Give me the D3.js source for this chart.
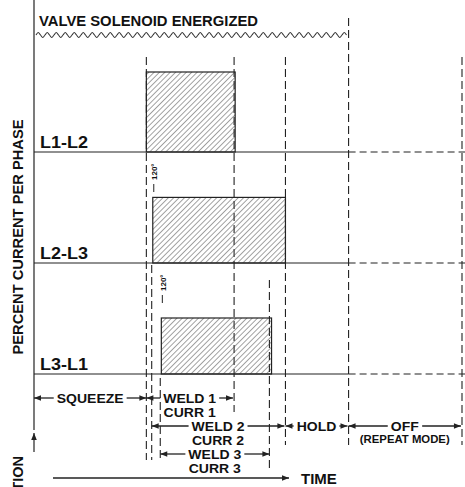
<!DOCTYPE html>
<html><head><meta charset="utf-8">
<script src="https://cdn.jsdelivr.net/npm/d3@7"></script>
<style>
html,body{margin:0;padding:0;background:#fff;}
svg{display:block;}
text{font-family:"Liberation Sans",Arial,sans-serif;font-weight:bold;fill:#111;}
</style></head>
<body>
<script>
// ---- data ----
const phases = ["L1-L2", "L2-L3", "L3-L1"];
const phaseStart = [10.5, 11.1, 11.9];      // time units
const phaseEnd = [18.8, 23.5, 22.2];
const phaseCurrent = [100, 82, 70];         // percent current

const valveOn = [0, 29.4];                  // solenoid energized interval
const markerTimes = [10.5, 11.0, 11.8, 18.7, 22.0, 23.5, 29.4, 40];

const intervalLabels = ["SQUEEZE", "WELD 1", "WELD 2", "HOLD", "OFF", "WELD 3"];
const intervalSubs = ["", "CURR 1", "CURR 2", "", "(REPEAT MODE)", "CURR 3"];
const intervalStart = [0, 10.5, 11.0, 23.5, 29.4, 11.8];
const intervalEnd = [10.5, 18.6, 23.4, 29.3, 39.9, 22.0];
const intervalRow = [0, 0, 1, 1, 1, 2];

// ---- layout ----
const W = 465, H = 487;
const svg = d3.select("body").append("svg").attr("width", W).attr("height", H);

const x = d3.scaleLinear().domain([0, 40]).range([34, 462]);
const yBase = d3.scalePoint().domain(phases).range([152, 374]);
const hCur = d3.scaleLinear().domain([0, 100]).range([0, 80]);
const rowY = d3.scalePoint().domain([0, 1, 2]).range([398, 454]);

const ink = "#222";

const defs = svg.append("defs");
const pat = defs.append("pattern").attr("id", "hatch")
  .attr("patternUnits", "userSpaceOnUse").attr("width", 3.8).attr("height", 3.8)
  .attr("patternTransform", "rotate(45)");
pat.append("line").attr("x1", 0).attr("y1", 0).attr("x2", 0).attr("y2", 3.8)
  .attr("stroke", "#444").attr("stroke-width", 1);
defs.append("marker").attr("id", "arr")
  .attr("viewBox", "0 0 10 10").attr("refX", 10).attr("refY", 5)
  .attr("markerWidth", 9).attr("markerHeight", 7).attr("markerUnits", "userSpaceOnUse")
  .attr("orient", "auto")
  .append("path").attr("d", "M0,1 L10,5 L0,9 Z").attr("fill", ink);

// ---- vertical dashed markers ----
const markerTop = [57, 265, 378, 57, 280, 57, 18, 57];
const markerBot = [460, 460, 460, 412, 468, 445, 445, 445];
svg.append("g").selectAll("line").data(markerTimes).join("line")
  .attr("x1", d => x(d)).attr("x2", d => x(d))
  .attr("y1", (d, i) => markerTop[i]).attr("y2", (d, i) => markerBot[i])
  .attr("stroke", ink).attr("stroke-width", 1.1).attr("stroke-dasharray", "8,4");

// ---- phase baselines ----
const gBase = svg.append("g");
phases.forEach(p => {
  gBase.append("line").attr("x1", x(0)).attr("x2", x(valveOn[1]))
    .attr("y1", yBase(p)).attr("y2", yBase(p)).attr("stroke", ink).attr("stroke-width", 1.1);
  gBase.append("line").attr("x1", x(valveOn[1])).attr("x2", W)
    .attr("y1", yBase(p)).attr("y2", yBase(p)).attr("stroke", ink).attr("stroke-width", 1.1)
    .attr("stroke-dasharray", "7,4");
});

// ---- current blocks ----
svg.append("g").selectAll("rect").data(phases).join("rect")
  .attr("x", (d, i) => x(phaseStart[i]))
  .attr("width", (d, i) => x(phaseEnd[i]) - x(phaseStart[i]))
  .attr("y", (d, i) => yBase(d) - hCur(phaseCurrent[i]))
  .attr("height", (d, i) => hCur(phaseCurrent[i]))
  .attr("fill", "url(#hatch)").attr("stroke", ink).attr("stroke-width", 1.2);

svg.append("g").selectAll("text").data(phases).join("text")
  .attr("x", 40).attr("y", d => yBase(d) - 4)
  .attr("font-size", 17).attr("textLength", 48).attr("lengthAdjust", "spacingAndGlyphs")
  .text(d => d);

// 120° phase shift marks
[1, 2].forEach(i => {
  const px = x(phaseStart[i]) + 1;
  const py = yBase(phases[i - 1]) + 16;
  svg.append("text").attr("transform", `translate(${px + 3.5},${py + 12}) rotate(-90)`)
    .attr("font-size", 8).attr("font-weight", "normal").text("120°");
  svg.append("line").attr("x1", px).attr("x2", px).attr("y1", py + 16).attr("y2", py + 24)
    .attr("stroke", ink).attr("stroke-width", 1);
});

// ---- y axis ----
svg.append("line").attr("x1", x(0)).attr("x2", x(0)).attr("y1", 0).attr("y2", 430)
  .attr("stroke", ink).attr("stroke-width", 1.2);
svg.append("text").attr("transform", "translate(23,237) rotate(-90)")
  .attr("text-anchor", "middle").attr("font-size", 14.5)
  .attr("textLength", 235).attr("lengthAdjust", "spacingAndGlyphs")
  .text("PERCENT CURRENT PER PHASE");
svg.append("text").attr("transform", "translate(23,456) rotate(-90)")
  .attr("text-anchor", "end").attr("font-size", 14.5).text("INITIATION");
svg.append("line").attr("x1", x(0)).attr("x2", x(0)).attr("y1", 452).attr("y2", 433)
  .attr("stroke", ink).attr("stroke-width", 1.2).attr("marker-end", "url(#arr)");

// ---- valve solenoid ----
svg.append("text").attr("x", 39).attr("y", 26).attr("font-size", 14.5)
  .attr("textLength", 219).attr("lengthAdjust", "spacingAndGlyphs").text("VALVE SOLENOID ENERGIZED");
const wavePts = d3.range(x(valveOn[0]) + 2, x(valveOn[1]) + 0.1, 2.25)
  .map((px, k) => [px, 35 + [0, -2.5, 0, 2.5][k % 4]]);
svg.append("path").attr("d", d3.line().curve(d3.curveCardinal)(wavePts))
  .attr("fill", "none").attr("stroke", "#333").attr("stroke-width", 1.1);

// ---- interval annotations ----
const gI = svg.append("g");
function label(xc, y, str, fs, stretch) {
  const t = gI.append("text").attr("x", xc).attr("y", y)
    .attr("text-anchor", "middle").attr("font-size", fs).text(str);
  const len = t.node().getComputedTextLength();
  t.attr("textLength", len * stretch).attr("lengthAdjust", "spacingAndGlyphs");
  return t;
}
intervalLabels.forEach((lab, i) => {
  const x0 = x(intervalStart[i]), x1 = x(intervalEnd[i]), y = rowY(intervalRow[i]);
  const t = label((x0 + x1) / 2, y + 4.5, lab, 12.5, 1.12);
  const bb = t.node().getBBox();
  gI.append("line").attr("x1", bb.x - 3).attr("x2", x0).attr("y1", y).attr("y2", y)
    .attr("stroke", ink).attr("stroke-width", 1.3).attr("marker-end", "url(#arr)");
  gI.append("line").attr("x1", bb.x + bb.width + 3).attr("x2", x1).attr("y1", y).attr("y2", y)
    .attr("stroke", ink).attr("stroke-width", 1.3).attr("marker-end", "url(#arr)");
  if (intervalSubs[i]) {
    const small = lab === "OFF";
    label((x0 + x1) / 2, y + (small ? 17 : 18.5), intervalSubs[i], small ? 10.5 : 12.5, small ? 1.08 : 1.12);
  }
});

// ---- time axis ----
svg.append("line").attr("x1", 53).attr("x2", 289).attr("y1", 478).attr("y2", 478)
  .attr("stroke", ink).attr("stroke-width", 1.3).attr("marker-end", "url(#arr)");
svg.append("text").attr("x", 301).attr("y", 484).attr("font-size", 15).text("TIME");
</script>
</body></html>
